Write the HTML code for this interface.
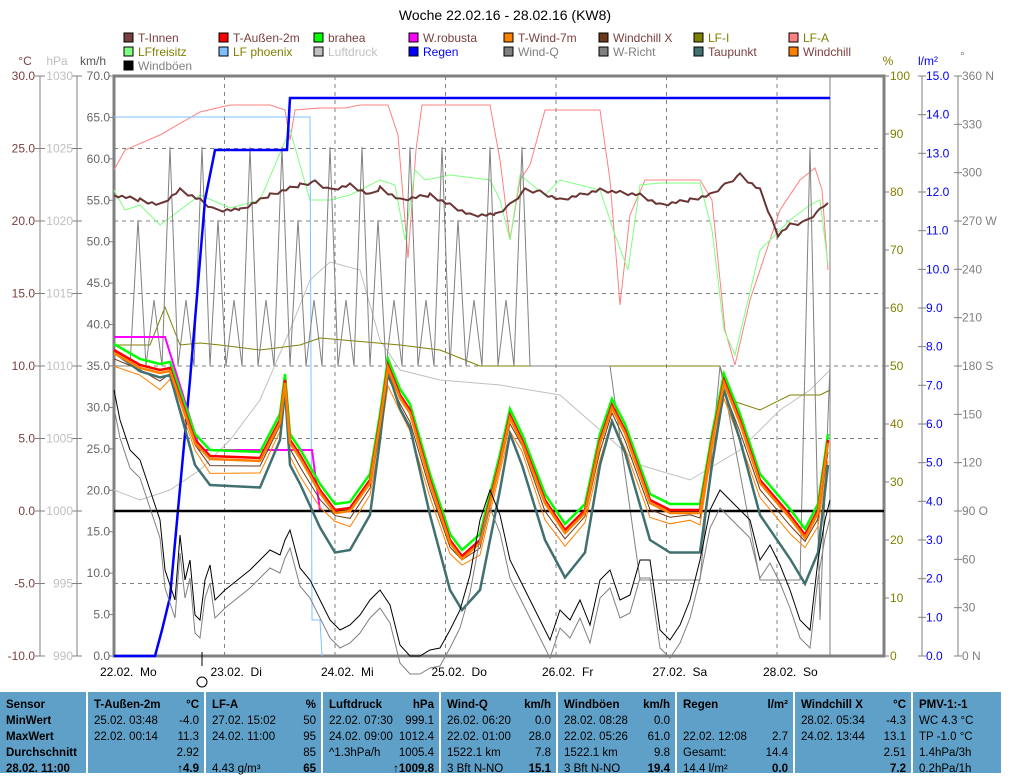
<!DOCTYPE html>
<html><head><meta charset="utf-8"><style>
body{margin:0;width:1010px;height:773px;overflow:hidden;background:#fff;font-family:"Liberation Sans",sans-serif}
svg{position:absolute;left:0;top:0}
#tbl{position:absolute;left:0;top:692px;width:1003px;height:81px;background:#5fa0c8}
.c{position:absolute;top:0;height:81px;font-size:11.5px;color:#000;border-right:2px solid #fff;box-sizing:border-box}
.r{position:absolute;left:6px;right:5px;height:16px;white-space:nowrap}
.r span{position:absolute;right:0}
.b{font-weight:bold}
</style></head><body>
<svg id="s" width="1010" height="692" font-family="Liberation Sans, sans-serif" font-size="12"></svg>
<div id="tbl"></div>
<script>
const S=document.getElementById('s');let h='';
h+='<text x="505" y="20" font-size="14" text-anchor="middle">Woche 22.02.16 - 28.02.16 (KW8)</text>';
const L=[["T-Innen","#7b3f3f","#7b3f3f"],["T-Außen-2m","#ff0000","#7b3f3f"],["brahea","#00ff00","#7b3f3f"],["W.robusta","#ff00ff","#7b3f3f"],["T-Wind-7m","#ff8000","#7b3f3f"],["Windchill X","#6b3a1a","#7b3f3f"],["LF-I","#808000","#808000"],["LF-A","#ff8080","#808000"],
["LFfreisitz","#80ff80","#808000"],["LF phoenix","#80c0ff","#808000"],["Luftdruck","#c0c0c0","#c0c0c0"],["Regen","#0000ff","#0000ff"],["Wind-Q","#808080","#808080"],["W-Richt","#808080","#808080"],["Taupunkt","#407070","#7b3f3f"],["Windchill","#ff8000","#7b3f3f"],["Windböen","#000000","#808080"]];
L.forEach((l,i)=>{const x=124+(i%8)*95,y=33+Math.floor(i/8)*14;h+=`<rect x="${x}" y="${y}" width="9" height="9" fill="${l[1]}" stroke="#000"/><text x="${x+14}" y="${y+9}" fill="${l[2]}">${l[0]}</text>`});
const T=76,B=656;
h+='<text x="25" y="65" fill="#7b3f3f" text-anchor="middle">°C</text><text x="57" y="65" fill="#c0c0c0" text-anchor="middle">hPa</text><text x="93" y="65" fill="#555" text-anchor="middle">km/h</text>';
h+='<text x="888" y="65" fill="#808000" text-anchor="middle">%</text><text x="928" y="65" fill="#0000ff" text-anchor="middle">l/m²</text><text x="960" y="60" fill="#808080">°</text>';
for(let i=1;i<8;i++){const y=T+i*72.5;h+=`<line x1="114" x2="884" y1="${y}" y2="${y}" stroke="#808080" stroke-dasharray="4,4"/>`}
for(let d=1;d<7;d++){const x=114+d*110.5;h+=`<line x1="${x}" x2="${x}" y1="${T}" y2="${B}" stroke="#808080" stroke-dasharray="4,4"/>`}
h+=`<rect x="114" y="${T}" width="770" height="580" fill="none" stroke="#808080" stroke-width="3"/>`;
h+=`<line x1="830" x2="830" y1="${T}" y2="${B}" stroke="#808080"/>`;
h+='<line x1="40" x2="40" y1="76" y2="656" stroke="#808080"/><line x1="77" x2="77" y1="76" y2="656" stroke="#808080"/>';
for(let i=0;i<=8;i++){const y=T+i*72.5;const c=(30-i*5).toFixed(1),p=1030-i*5;
h+=`<line x1="35" x2="45" y1="${y}" y2="${y}" stroke="#808080"/><text x="35" y="${y+4}" fill="#7b3f3f" text-anchor="end">${c}</text>`;
h+=`<line x1="72" x2="82" y1="${y}" y2="${y}" stroke="#808080"/><text x="73" y="${y+4}" fill="#c0c0c0" text-anchor="end">${p}</text>`;}
for(let i=0;i<=14;i++){const y=T+i*580/14;h+=`<line x1="109" x2="114" y1="${y}" y2="${y}" stroke="#808080"/><text x="110" y="${y+4}" fill="#666" text-anchor="end">${(70-i*5).toFixed(1)}</text>`}
h+='<line x1="922" x2="922" y1="76" y2="656" stroke="#808080"/><line x1="958" x2="958" y1="76" y2="656" stroke="#808080"/>';
for(let i=0;i<=10;i++){const y=T+i*58;h+=`<line x1="884" x2="889" y1="${y}" y2="${y}" stroke="#808080"/><text x="890" y="${y+4}" fill="#808000">${100-i*10}</text>`}
for(let i=0;i<=15;i++){const y=T+i*580/15;h+=`<line x1="918" x2="926" y1="${y}" y2="${y}" stroke="#808080"/><text x="926" y="${y+4}" fill="#0000ff">${(15-i).toFixed(1)}</text>`}
const dn={0:" N",3:" W",6:" S",9:" O",12:" N"};
for(let i=0;i<=12;i++){const y=T+i*580/12;h+=`<line x1="954" x2="962" y1="${y}" y2="${y}" stroke="#808080"/><text x="962" y="${y+4}" fill="#808080">${360-i*30}${dn[i]||""}</text>`}
["22.02.  Mo","23.02.  Di","24.02.  Mi","25.02.  Do","26.02.  Fr","27.02.  Sa","28.02.  So"].forEach((t,i)=>{h+=`<text x="${100+i*110.5}" y="676" xml:space="preserve">${t}</text>`});
h+='<line x1="202" x2="202" y1="652" y2="666" stroke="#000"/><circle cx="202" cy="682" r="5" fill="none" stroke="#000"/>';
function pl(p,c,w){h+=`<polyline points="${p}" fill="none" stroke="${c}" stroke-width="${w}"/>`}
pl("114,170 125,150 160,135 200,112 230,105 270,105 285,110 290,140 295,110 320,108 345,108 360,105 388,105 398,135 408,258 416,150 422,105 490,105 500,160 510,240 520,180 530,165 545,110 600,110 610,180 620,305 630,215 645,180 700,180 712,200 725,330 735,365 750,300 780,210 800,180 815,168 822,190 828,270","#ff8080",1);
pl("114,190 125,210 140,205 160,225 180,210 200,195 230,208 260,200 290,130 310,200 330,200 350,195 380,180 395,185 405,240 415,170 425,180 450,175 490,180 500,200 510,240 520,175 545,195 560,180 600,190 615,235 628,270 640,185 660,183 700,183 712,230 724,330 735,355 760,250 790,220 810,205 820,200 828,265","#80ff80",1);
pl("114,117 310,117 312,620 320,620 322,656","#80c0ff",1);
pl("114,490 140,500 170,490 200,470 230,440 260,400 290,330 310,280 330,262 360,270 380,340 400,370 440,380 500,385 560,395 600,430 640,465 690,480 740,450 780,410 810,390 830,370","#c0c0c0",1);
pl("114,345 150,345 165,307 180,345 200,343 220,345 260,350 300,345 320,338 400,345 440,350 480,366 560,366 580,366 720,366 730,400 760,410 790,395 820,395 830,390","#808000",1);
let wr="114,366";for(let x=130;x<530;x+=8){wr+=` ${x},${[366,147,366,300,366,147,366,220,366,300][Math.floor(x/8)%10]}`}
wr+=" 530,366 600,366 610,366 640,580 700,580 720,366 760,580 800,580 810,147 820,620 830,366";pl(wr,"#808080",1);
let ti=[[114,195],[140,200],[160,205],[180,190],[200,200],[215,210],[240,210],[270,195],[300,185],[315,182],[330,190],[350,185],[370,195],[380,188],[400,200],[430,195],[450,205],[470,215],[495,215],[510,205],[525,190],[540,192],[560,200],[580,195],[600,190],[640,195],[660,205],[690,200],[710,195],[725,185],[740,175],[760,190],[778,235],[790,225],[805,222],[820,210],[828,203]];
let tp=[];for(let i=0;i<ti.length-1;i++){const a=ti[i],b=ti[i+1];for(let x=a[0];x<b[0];x+=4){const y=a[1]+(b[1]-a[1])*(x-a[0])/(b[0]-a[0])+((x*13)%5-2)*0.8;tp.push(x+","+y.toFixed(1))}}tp.push("828,203");
pl(tp.join(" "),"#6b3535",2);
pl("114,656 155,656 162,630 170,597 178,510 190,380 200,260 205,200 210,175 215,150 287,150 290,98 830,98","#0000ff",2.5);
pl("114,337 165,337 200,450 312,450 320,511 830,511","#ff00ff",2);
pl("114,511 884,511","#000",2.5);
const base=[[114,350],[140,365],[160,370],[170,368],[195,440],[210,456],[260,458],[280,420],[285,380],[290,440],[300,455],[320,490],[335,510],[350,508],[370,480],[380,420],[388,365],[400,395],[410,410],[430,480],[450,540],[462,556],[480,540],[500,460],[510,415],[522,440],[545,500],[565,530],[585,510],[600,440],[612,405],[625,430],[650,500],[670,510],[690,510],[700,510],[712,440],[724,380],[740,420],[760,480],[790,515],[805,535],[818,510],[828,440]];
function off(a,dy,n){return a.map(p=>p[0]+","+(p[1]+dy+(n?((p[0]*7)%11-5)*n:0))).join(" ")}
pl(off(base,15,1.2),"#ff8000",1);
pl(off(base,8,0.8),"#6b3a1a",1);
pl(off(base.map(p=>[p[0],p[1]+(p[1]-380)*0.25+10]),0,0),"#407070",2.5);
pl(off(base,-6,0),"#00ff00",2.5);
pl(off(base,0,0),"#ff0000",2.5);
pl(off(base,3,0),"#ff8000",2.5);
const wb=[[114,390],[120,420],[130,450],[140,460],[155,505],[160,520],[165,570],[175,600],[180,535],[185,580],[190,560],[195,615],[200,620],[205,580],[210,565],[215,600],[225,590],[240,578],[250,570],[260,560],[270,550],[280,555],[285,540],[290,530],[300,568],[310,580],[320,600],[330,620],[340,630],[350,625],[360,615],[370,600],[380,590],[390,605],[400,645],[410,656],[420,656],[430,650],[440,648],[450,630],[460,610],[470,575],[480,520],[490,490],[500,515],[510,560],[520,580],[530,600],[540,620],[550,640],[560,610],[570,620],[580,600],[590,625],[600,580],[610,570],[620,600],[630,595],[640,560],[650,560],[660,630],[670,640],[680,625],[690,600],[700,560],[710,510],[720,490],[730,500],[740,510],[750,520],[760,560],[770,545],[780,565],[790,590],[800,620],[810,630],[818,560],[825,520],[830,500]];
pl(off(wb,18,0),"#808080",1);pl(off(wb,0,0),"#000",1);
S.innerHTML=h;
const cols=[[0,88,[["Sensor",""],["MinWert",""],["MaxWert",""],["Durchschnitt",""],["28.02.  11:00",""]],1],
[88,118,[["T-Außen-2m","°C"],["25.02.  03:48","-4.0"],["22.02.  00:14","11.3"],["","2.92"],["","↑4.9"]]],
[206,117,[["LF-A","%"],["27.02.  15:02","50"],["24.02.  11:00","95"],["","85"],[" 4.43 g/m³","65"]]],
[323,118,[["Luftdruck","hPa"],["22.02.  07:30","999.1"],["24.02.  09:00","1012.4"],["^1.3hPa/h","1005.4"],["","↑1009.8"]]],
[441,117,[["Wind-Q","km/h"],["26.02.  06:20","0.0"],["22.02.  01:00","28.0"],["1522.1 km","7.8"],[" 3 Bft N-NO","15.1"]]],
[558,119,[["Windböen","km/h"],["28.02.  08:28","0.0"],["22.02.  05:26","61.0"],["1522.1 km","9.8"],[" 3 Bft N-NO","19.4"]]],
[677,118,[["Regen","l/m²"],["",""],["22.02.  12:08","2.7"],["Gesamt:","14.4"],[" 14.4 l/m²","0.0"]]],
[795,118,[["Windchill X","°C"],["28.02.  05:34","-4.3"],["24.02.  13:44","13.1"],["","2.51"],["","7.2"]]],
[913,90,[["PMV-1:-1",""],["WC 4.3 °C",""],["TP -1.0 °C",""],["1.4hPa/3h",""],["0.2hPa/1h",""]]]];
let t='';cols.forEach(c=>{t+=`<div class="c" style="left:${c[0]}px;width:${c[1]}px">`;c[2].forEach((r,i)=>{t+=`<div class="r ${i==0||c[3]?'b':''}" style="top:${7+i*16}px">${r[0].replace(/  /g,'&nbsp;')}<span class="${i==4||i==0?'b':''}">${r[1]}</span></div>`});t+='</div>'});
document.getElementById('tbl').innerHTML=t;
</script>
</body></html>
